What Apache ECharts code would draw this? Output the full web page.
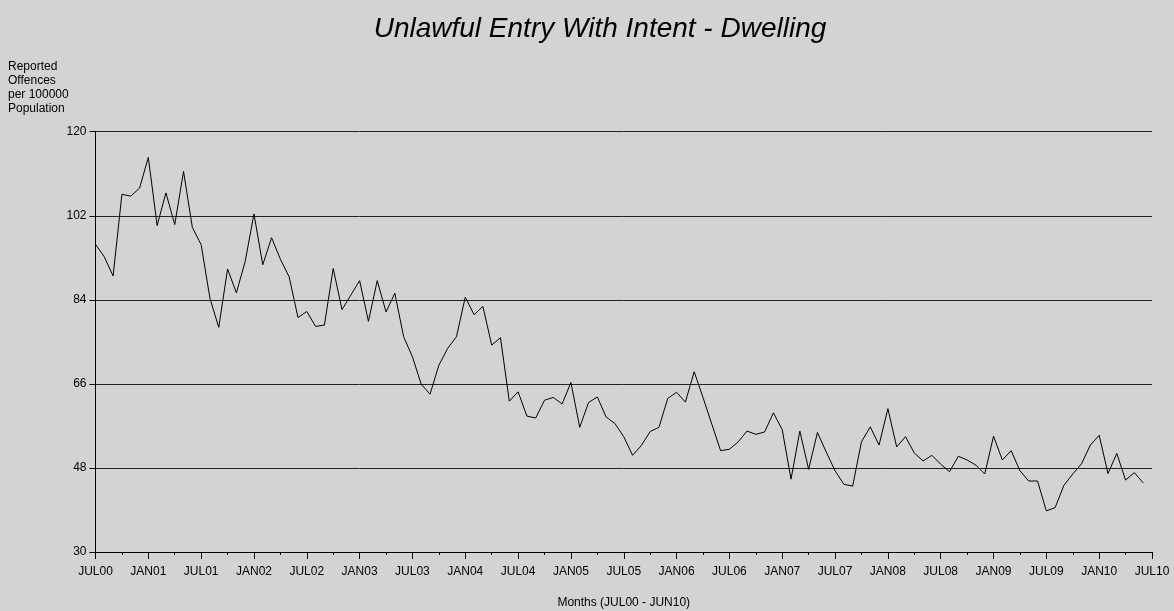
<!DOCTYPE html>
<html>
<head>
<meta charset="utf-8">
<script src="https://cdn.jsdelivr.net/npm/echarts@6/dist/echarts.min.js"></script>
<style>
  html, body { margin: 0; padding: 0; background: #d3d3d3; }
  #chart { width: 1174px; height: 611px; }
</style>
</head>
<body>
<div id="chart"></div>
<script>
// monthly rate, JUL00 .. JUN10
const offences = [
  95.9, 93.2, 89.1, 106.6, 106.2, 107.9, 114.5, 99.9, 106.9, 100.1, 111.5, 99.5,
  95.8, 84.3, 78.1, 90.6, 85.5, 92.2, 102.4, 91.5, 97.3, 92.7, 88.9, 80.2,
  81.5, 78.3, 78.6, 90.7, 81.9, 85.0, 88.1, 79.4, 88.1, 81.4, 85.4, 76.1,
  71.8, 65.9, 63.8, 70.0, 73.6, 76.1, 84.6, 80.8, 82.6, 74.3, 75.9, 62.3,
  64.3, 59.1, 58.7, 62.5, 63.1, 61.7, 66.3, 56.7, 62.0, 63.2, 58.9, 57.5,
  54.7, 50.7, 52.8, 55.8, 56.7, 62.9, 64.2, 62.1, 68.6, 63.1, 57.4, 51.7,
  52.0, 53.6, 55.9, 55.2, 55.7, 59.8, 56.2, 45.6, 55.9, 47.7, 55.6, 51.4,
  47.4, 44.5, 44.1, 53.6, 56.8, 52.9, 60.7, 52.5, 54.7, 51.2, 49.5, 50.7,
  48.8, 47.2, 50.5, 49.7, 48.6, 46.7, 54.8, 49.7, 51.7, 47.4, 45.2, 45.2,
  38.8, 39.5, 44.3, 46.7, 48.9, 52.9, 55.0, 46.8, 51.1, 45.4, 47.0, 44.8
]
const monthLabels = [
  'JUL00', 'JAN01', 'JUL01', 'JAN02', 'JUL02', 'JAN03', 'JUL03', 'JAN04',
  'JUL04', 'JAN05', 'JUL05', 'JAN06', 'JUL06', 'JAN07', 'JUL07', 'JAN08',
  'JUL08', 'JAN09', 'JUL09', 'JAN10', 'JUL10'
]
const yTicks = [30, 48, 66, 84, 102, 120]

const font = '"Liberation Sans", Arial, sans-serif'
const chart = echarts.init(document.getElementById('chart'))

chart.setOption({
  backgroundColor: '#d3d3d3',
  animation: false,
  graphic: [
    {
      type: 'text',
      x: 600,
      y: 15,
      style: {
        text: 'Unlawful Entry With Intent - Dwelling',
        font: 'italic 28px ' + font,
        fill: '#000',
        align: 'center'
      }
    },
    {
      type: 'text',
      left: 8,
      top: 60,
      style: {
        text: 'Reported\nOffences\nper 100000\nPopulation',
        font: '12px ' + font,
        lineHeight: 14,
        fill: '#000'
      }
    }
  ],
  grid: {
    left: 95.5, right: 22, top: 131.7, bottom: 59,
    containLabel: false,
    outerBoundsMode: 'none'
  },
  xAxis: {
    type: 'value',
    min: 0,
    max: 120,
    interval: 6,
    name: 'Months (JUL00 - JUN10)',
    nameLocation: 'middle',
    nameGap: 45,
    nameTextStyle: { color: '#000', fontFamily: font, fontSize: 12 },
    axisLine: { lineStyle: { color: '#000', width: 1 } },
    axisTick: { length: 7, lineStyle: { color: '#000' } },
    minorTick: { show: true, splitNumber: 2, length: 3, lineStyle: { color: '#000' } },
    splitLine: { show: false },
    axisLabel: {
      color: '#000',
      fontFamily: font,
      fontSize: 12,
      margin: 14,
      formatter: v => monthLabels[Math.round(v / 6)] || ''
    }
  },
  yAxis: {
    type: 'value',
    min: yTicks[0],
    max: yTicks[yTicks.length - 1],
    interval: 18,
    axisLine: { show: true, lineStyle: { color: '#000', width: 1 } },
    axisTick: { show: true, length: 6, lineStyle: { color: '#000' } },
    splitLine: { lineStyle: { color: '#222', width: 1 } },
    axisLabel: { color: '#000', fontFamily: font, fontSize: 12, margin: 9 }
  },
  series: [
    {
      type: 'line',
      data: offences.map((v, i) => [i, v]),
      showSymbol: false,
      lineStyle: { color: '#000', width: 1 }
    }
  ]
})
</script>
</body>
</html>
